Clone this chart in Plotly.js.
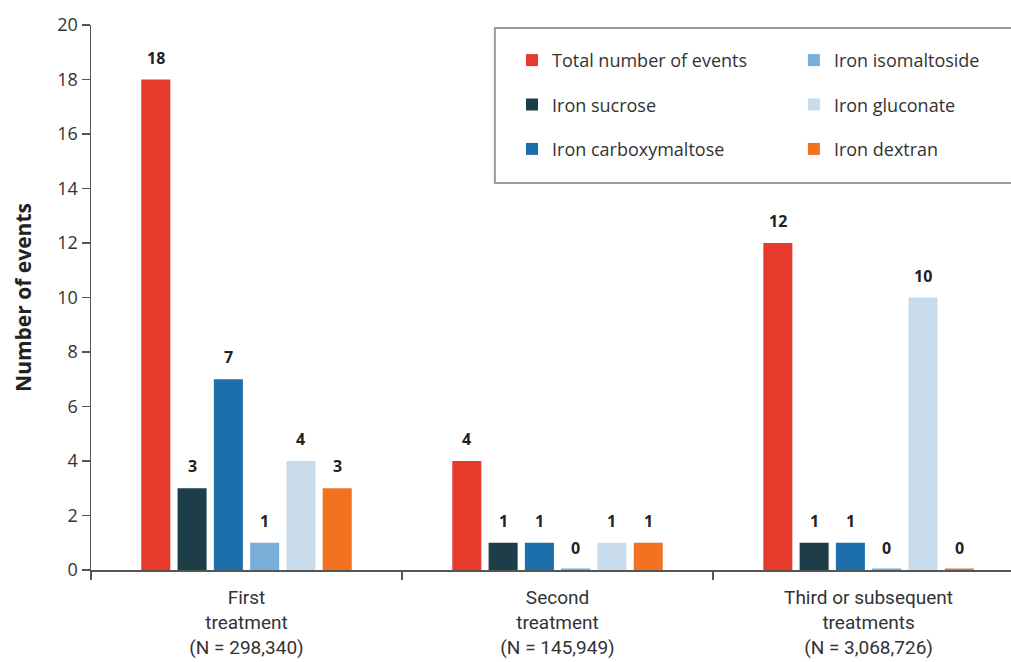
<!DOCTYPE html>
<html>
<head>
<meta charset="utf-8">
<script src="https://cdn.plot.ly/plotly-3.0.1.min.js"></script>
<style>
  html, body { margin: 0; padding: 0; background: #ffffff; overflow: hidden; }
  #chart { width: 1011px; height: 662px; }
</style>
</head>
<body>
<div id="chart"></div>
<script>
// Treatment episodes along the x axis
const categories = [
  'First<br>treatment<br>(N = 298,340)',
  'Second<br>treatment<br>(N = 145,949)',
  'Third or subsequent<br>treatments<br>(N = 3,068,726)'
];

// Number of events per product, one value per treatment episode
const totalEvents        = [18, 4, 12];
const ironSucrose        = [3, 1, 1];
const ironCarboxymaltose = [7, 1, 1];
const ironIsomaltoside   = [1, 0, 0];
const ironGluconate      = [4, 1, 10];
const ironDextran        = [3, 1, 0];

const seriesNames = [
  'Total number of events',
  'Iron sucrose',
  'Iron carboxymaltose',
  'Iron isomaltoside',
  'Iron gluconate',
  'Iron dextran'
];
const seriesValues = [totalEvents, ironSucrose, ironCarboxymaltose,
                      ironIsomaltoside, ironGluconate, ironDextran];
const seriesColors = ['#e63a2d', '#1d3e49', '#1b6fab', '#79aed9', '#c9dcec', '#f27222'];
// first legend column holds the first three series, second column the rest
const legendOf = ['legend', 'legend', 'legend', 'legend2', 'legend2', 'legend2'];

const yTicks = [0, 2, 4, 6, 8, 10, 12, 14, 16, 18, 20];

const BARGAP = 0.3;
const BARGROUPGAP = 0.2;
const SANS = '"Open Sans", "Noto Sans", sans-serif';

const traces = seriesNames.map((name, i) => ({
  type: 'bar',
  name: name,
  x: categories,
  y: seriesValues[i],
  legend: legendOf[i],
  legendgroup: 'g' + i,
  marker: {
    color: seriesColors[i],
    // zero counts are still shown as a thin sliver on the baseline
    line: { color: seriesColors[i], width: seriesValues[i].map(v => (v === 0 ? 3 : 0)) }
  },
  hoverinfo: 'x+y+name'
}));

// Value labels above each bar, placed at the bar's slot within its group
const nSeries = seriesNames.length;
const slot = (1 - BARGAP) / nSeries;
const annotations = [];
seriesValues.forEach((vals, i) => {
  vals.forEach((v, c) => {
    annotations.push({
      x: c - (1 - BARGAP) / 2 + slot * (i + 0.5),
      y: v,
      xref: 'x', yref: 'y',
      text: '<b>' + v + '</b>',
      showarrow: false,
      yanchor: 'bottom',
      yshift: 9,
      font: { family: SANS, size: 16, color: '#222222' }
    });
  });
});

const legendStyle = {
  orientation: 'v',
  xanchor: 'left',
  yanchor: 'top',
  bgcolor: 'rgba(0,0,0,0)',
  borderwidth: 0,
  tracegroupgap: 18,
  font: { family: SANS, size: 18, color: '#333333' }
};

const layout = {
  width: 1011,
  height: 662,
  margin: { l: 91, r: 0, t: 25, b: 92 },
  paper_bgcolor: '#ffffff',
  plot_bgcolor: '#ffffff',
  barmode: 'group',
  bargap: BARGAP,
  bargroupgap: BARGROUPGAP,
  showlegend: true,
  legend: Object.assign({ x: 0.4576, y: 0.969 }, legendStyle),
  legend2: Object.assign({ x: 0.764, y: 0.969 }, legendStyle),
  xaxis: {
    type: 'category',
    range: [-0.5, 2.458],
    showline: true,
    linecolor: '#555555',
    linewidth: 1.5,
    ticks: 'outside',
    tickson: 'boundaries',
    ticklen: 8,
    tickcolor: '#555555',
    tickwidth: 1.5,
    ticklabelstandoff: 10,
    showgrid: false,
    zeroline: false,
    tickfont: { family: '"Liberation Sans Narrow", Roboto, sans-serif', size: 19, color: '#333333' }
  },
  yaxis: {
    range: [0, 20],
    tickvals: yTicks,
    ticktext: yTicks.map(String),
    showline: true,
    linecolor: '#555555',
    linewidth: 1.5,
    ticks: 'outside',
    ticklen: 8,
    tickcolor: '#555555',
    tickwidth: 1.5,
    showgrid: false,
    zeroline: false,
    tickfont: { family: SANS, size: 18, color: '#333333' },
    title: {
      text: '<b>Number of events</b>',
      standoff: 20,
      font: { family: SANS, size: 21, color: '#222222' }
    }
  },
  shapes: [{
    type: 'rect',
    xref: 'paper', yref: 'paper',
    x0: 0.439, x1: 1.02, y0: 0.71, y1: 0.9945,
    line: { color: '#9a9a9a', width: 2 },
    fillcolor: '#ffffff',
    layer: 'below'
  }],
  annotations: annotations
};

Plotly.newPlot('chart', traces, layout, { displayModeBar: false, staticPlot: true });
</script>
</body>
</html>
